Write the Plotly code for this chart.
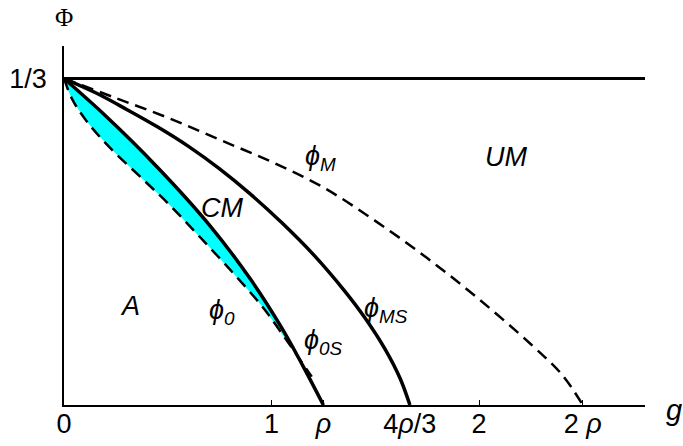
import plotly.graph_objects as go

RHO = 1.25

# phi_M (dashed)
phiM_g = [0.0, 0.25, 0.5, 0.75, 1.0, 1.25, 1.5, 1.75, 2.0, 2.25, 2.4, 2.5]
phiM_v = [0.3333, 0.3133, 0.2933, 0.2708, 0.2483, 0.2221, 0.188, 0.150, 0.108, 0.062, 0.031, 0.0]

# phi_MS (solid)
phiMS_g = [0.0, 0.15, 0.30, 0.45, 0.60, 0.75, 0.90, 1.05, 1.20, 1.35, 1.45, 1.55, 1.62, 1.667]
phiMS_v = [0.3333, 0.319, 0.302, 0.284, 0.264, 0.241, 0.215, 0.186, 0.154, 0.117, 0.089, 0.056, 0.027, 0.0]

# phi_0 (solid)
phi0_g = [0.0, 0.2, 0.45, 0.7, 0.9, 1.05, 1.15, 1.25]
phi0_v = [0.3333, 0.2953, 0.2428, 0.1840, 0.1280, 0.0785, 0.0405, 0.0]

# phi_0S (dashed)
phi0S_g = [0.0, 0.04, 0.11, 0.22, 0.38, 0.51, 0.655, 0.816, 0.961, 1.073, 1.153, 1.194]
phi0S_v = [0.3333, 0.312, 0.2895, 0.263, 0.2305, 0.2040, 0.1715, 0.1345, 0.0990, 0.066, 0.0415, 0.029]

# horizontal line Phi = 1/3
top_g = [0.0, 2.8]
top_v = [1/3, 1/3]

tick_vals = [0, 1, RHO, 4*RHO/3, 2, 2*RHO]
tick_text = ["0", "1", "<i>ρ</i>", "4<i>ρ</i>/3", "2", "2 <i>ρ</i>"]

FONT = "Liberation Sans"
FS = 27

fig = go.Figure()

# cyan band between phi_0S and phi_0
band_x = phi0S_g[:11] + phi0_g[:6][::-1]
band_y = phi0S_v[:11] + phi0_v[:6][::-1]
fig.add_trace(go.Scatter(x=band_x, y=band_y, mode="lines", fill="toself",
                         fillcolor="#00FFFF", line=dict(width=0, shape="spline", smoothing=0.6),
                         hoverinfo="skip", showlegend=False))

fig.add_trace(go.Scatter(x=top_g, y=top_v, mode="lines",
                         line=dict(color="black", width=3), showlegend=False))
fig.add_trace(go.Scatter(x=phiM_g, y=phiM_v, mode="lines",
                         line=dict(color="black", width=2.5, dash="12px,7px", shape="spline"),
                         showlegend=False))
fig.add_trace(go.Scatter(x=phiMS_g, y=phiMS_v, mode="lines",
                         line=dict(color="black", width=3.5, shape="spline"), showlegend=False))
fig.add_trace(go.Scatter(x=phi0S_g, y=phi0S_v, mode="lines",
                         line=dict(color="black", width=2.5, dash="12px,7px", shape="spline"),
                         showlegend=False))
fig.add_trace(go.Scatter(x=phi0_g, y=phi0_v, mode="lines",
                         line=dict(color="black", width=3.5, shape="spline"), showlegend=False))

labels = [
    (2.130, 0.2532, "<i>UM</i>", "center"),
    (0.760, 0.2011, "<i>CM</i>", "center"),
    (0.318, 0.1006, "<i>A</i>", "center"),
    (0.690, 0.0949, "<i>ϕ<sub>0</sub></i>", "left"),
    (1.146, 0.0646, "<i>ϕ<sub>0S</sub></i>", "left"),
    (1.435, 0.0970, "<i>ϕ<sub>MS</sub></i>", "left"),
    (1.153, 0.2520, "<i>ϕ<sub>M</sub></i>", "left"),
]
for x, y, t, xa in labels:
    fig.add_annotation(x=x, y=y, text=t, showarrow=False, xanchor=xa, yanchor="middle",
                       font=dict(family=FONT, size=FS, color="black"))

fig.add_annotation(x=1.05, y=-0.014, xref="paper", yref="paper", text="<i>g</i>",
                   showarrow=False, xanchor="center", yanchor="middle",
                   font=dict(family=FONT, size=FS + 2, color="black"))
fig.add_annotation(x=0.0, y=1.08, xref="paper", yref="paper", text="Φ",
                   showarrow=False, xanchor="center", yanchor="middle",
                   font=dict(family="Liberation Serif", size=FS - 2, color="black"))

fig.update_layout(
    width=683, height=446,
    margin=dict(l=64, r=38, t=46, b=41),
    plot_bgcolor="white", paper_bgcolor="white",
    showlegend=False,
    xaxis=dict(range=[0, 2.8], showgrid=False, zeroline=False, showline=True,
               automargin=False,
               linecolor="black", linewidth=1.5, ticks="inside", ticklen=5,
               tickcolor="black", tickwidth=1.2, ticklabelstandoff=-6,
               tickvals=tick_vals, ticktext=tick_text,
               tickfont=dict(family=FONT, size=FS, color="black")),
    yaxis=dict(range=[0, 0.3665], showgrid=False, zeroline=False, showline=True,
               automargin=False,
               linecolor="black", linewidth=1.5, ticks="",
               tickvals=[1/3], ticktext=["1/3"], ticklabelstandoff=10,
               tickfont=dict(family=FONT, size=FS, color="black")),
)

fig.write_html("out.html", config={"displayModeBar": False},
               post_script="document.body.style.margin='0';document.body.style.overflow='hidden';")
